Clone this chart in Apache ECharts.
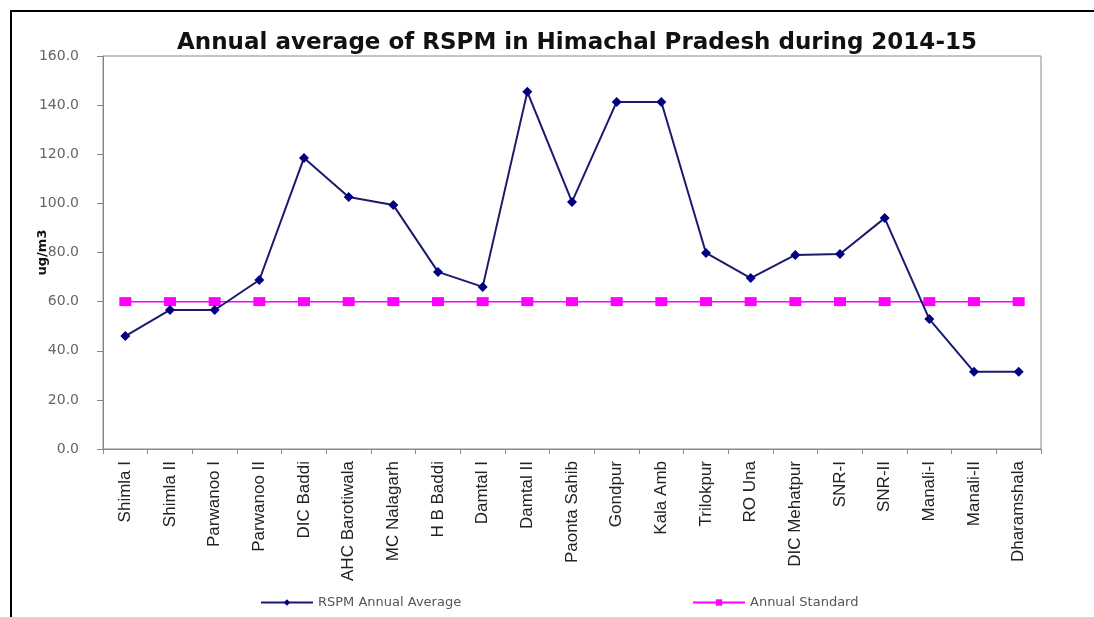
<!DOCTYPE html>
<html>
<head>
<meta charset="utf-8">
<script src="https://cdn.jsdelivr.net/npm/echarts@6/dist/echarts.min.js"></script>
<style>html,body{margin:0;padding:0;background:#fff;}#c{width:1094px;height:617px;}</style>
</head>
<body>
<div id="c"></div>
<script>
const categories = ["Shimla I","Shimla II","Parwanoo I","Parwanoo II","DIC Baddi","AHC Barotiwala","MC Nalagarh","H B Baddi","Damtal I","Damtal II","Paonta Sahib","Gondpur","Kala Amb","Trilokpur","RO Una","DIC Mehatpur","SNR-I","SNR-II","Manali-I","Manali-II","Dharamshala"];
const rspmAverage = [46.0,56.6,56.6,68.8,118.5,102.6,99.3,72.1,66.0,145.4,100.6,141.3,141.3,79.8,69.6,79.0,79.4,94.0,52.9,31.4,31.4];
const annualStandard = [60,60,60,60,60,60,60,60,60,60,60,60,60,60,60,60,60,60,60,60,60];
const yTicks = {min: 0, max: 160, interval: 20};

const chart = echarts.init(document.getElementById('c'), null, {renderer: 'canvas'});
chart.setOption({
  animation: false,
  backgroundColor: '#fff',
  title: {
    text: 'Annual average of RSPM in Himachal Pradesh during 2014-15',
    left: 572, textAlign: 'center', top: 27,
    textStyle: {fontFamily: 'DejaVu Sans', fontWeight: 'bold', fontSize: 23, color: '#111'}
  },
  graphic: [
    {type: 'line', shape: {x1: 10, y1: 11, x2: 1094, y2: 11}, style: {stroke: '#000', lineWidth: 2}},
    {type: 'line', shape: {x1: 11, y1: 10, x2: 11, y2: 617}, style: {stroke: '#000', lineWidth: 2}}
  ],
  grid: {left: 103, top: 56, right: 53, bottom: 168, show: true, borderColor: '#888', borderWidth: 1},
  legend: [
    {data: ['RSPM Annual Average'], left: 255, top: 591, itemWidth: 52, itemHeight: 8, itemGap: 6,
     textStyle: {fontFamily: 'DejaVu Sans', fontSize: 13, color: '#555'}},
    {data: ['Annual Standard'], left: 687, top: 591, itemWidth: 52, itemHeight: 8,
     textStyle: {fontFamily: 'DejaVu Sans', fontSize: 13, color: '#555'}}
  ],
  xAxis: {
    type: 'category', data: categories,
    axisLine: {lineStyle: {color: '#888', width: 1}},
    axisTick: {show: true, length: 5, lineStyle: {color: '#888'}},
    axisLabel: {rotate: 90, margin: 12, interval: 0, fontFamily: 'Liberation Sans, Arial', fontSize: 17, color: '#222'}
  },
  yAxis: {
    type: 'value', min: yTicks.min, max: yTicks.max, interval: yTicks.interval,
    name: 'ug/m3', nameLocation: 'middle', nameRotate: 90, nameGap: 54, nameMoveOverlap: false,
    nameTextStyle: {fontFamily: 'DejaVu Sans', fontWeight: 'bold', fontSize: 13, color: '#111'},
    axisLine: {show: true, lineStyle: {color: '#888', width: 1}},
    axisTick: {show: true, length: 6, lineStyle: {color: '#888'}},
    splitLine: {show: false},
    axisLabel: {margin: 24, formatter: v => v.toFixed(1), fontFamily: 'DejaVu Sans', fontSize: 14, color: '#666'}
  },
  series: [
    {name: 'RSPM Annual Average', type: 'line', data: rspmAverage, symbol: 'diamond', symbolSize: 10,
     itemStyle: {color: '#000080'}, lineStyle: {color: '#1a1a6e', width: 2}, z: 3},
    {name: 'Annual Standard', type: 'line', data: annualStandard, symbol: 'rect', symbolSize: [12, 9],
     itemStyle: {color: '#FF00FF'}, lineStyle: {color: '#FF00FF', width: 1.5}, z: 2}
  ]
});
</script>
</body>
</html>
